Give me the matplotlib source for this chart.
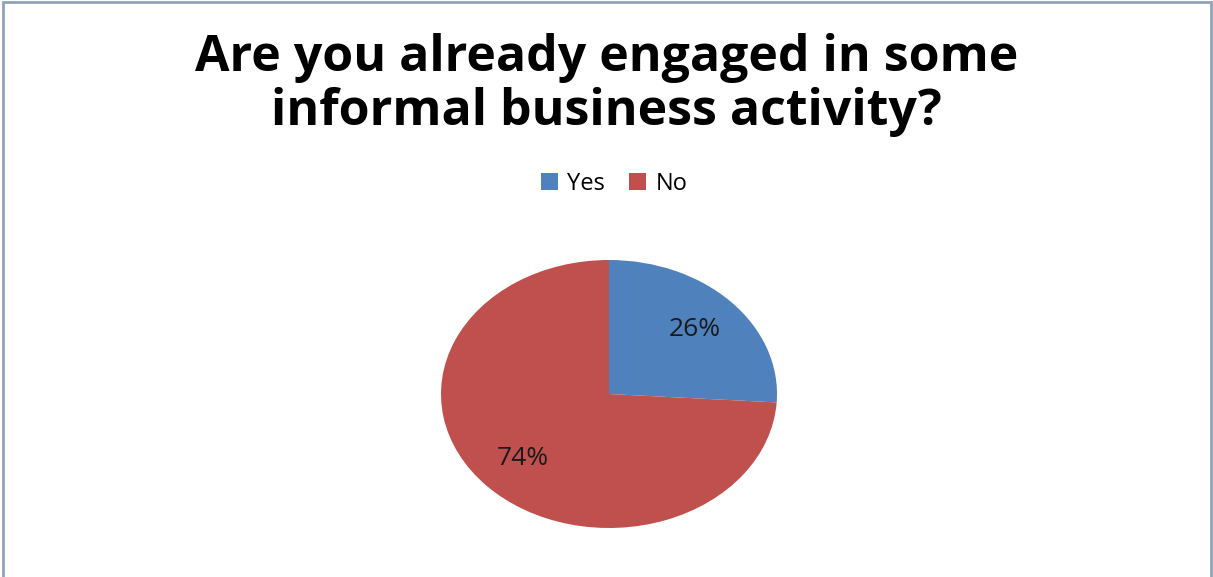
import matplotlib
matplotlib.use("Agg")
import matplotlib.pyplot as plt
from matplotlib.patches import Rectangle

# datos del grafico
categorias = ["Yes", "No"]
porcentajes = [26, 74]
colores = ["#4F81BD", "#C0504D"]
titulo = "Are you already engaged in some\ninformal business activity?"

plt.rcParams['font.family'] = ['Open Sans', 'DejaVu Sans']

W, H = 1213, 577
fig = plt.figure(figsize=(W / 100, H / 100), dpi=100)
fig.patch.set_facecolor("white")

# marco del area del grafico
marco = Rectangle((3 / W, -0.01), (1211 - 3) / W, 1 - 2 / H + 0.01, transform=fig.transFigure,
                  fill=False, edgecolor="#8FA3BD", linewidth=2)
fig.add_artist(marco)

# ejes del pie (eliptico, como en el original)
ax = fig.add_axes([441 / W, (H - 528) / H, 336 / W, 268 / H])
wedges, textos, autotextos = ax.pie(porcentajes, colors=colores, startangle=90, counterclock=False,
                                    autopct=lambda p: f"{p:.0f}%", pctdistance=0.7,
                                    textprops={'fontsize': 19, 'color': '#1a1a1a'})
ax.set_aspect('auto')
ax.set_xlim(-1, 1)
ax.set_ylim(-1, 1)
ax.axis('off')

fig.text(0.5, 1 - 85 / H, titulo, ha='center', va='center', fontsize=36, fontweight='bold',
         linespacing=1.12)

fig.legend(wedges, categorias, loc='center', bbox_to_anchor=(614 / W, 1 - 184 / H), ncol=2,
           frameon=False, fontsize=17, handlelength=0.72, handleheight=0.72, handletextpad=0.4,
           columnspacing=1.0)

fig.savefig("out.png", dpi=100)
